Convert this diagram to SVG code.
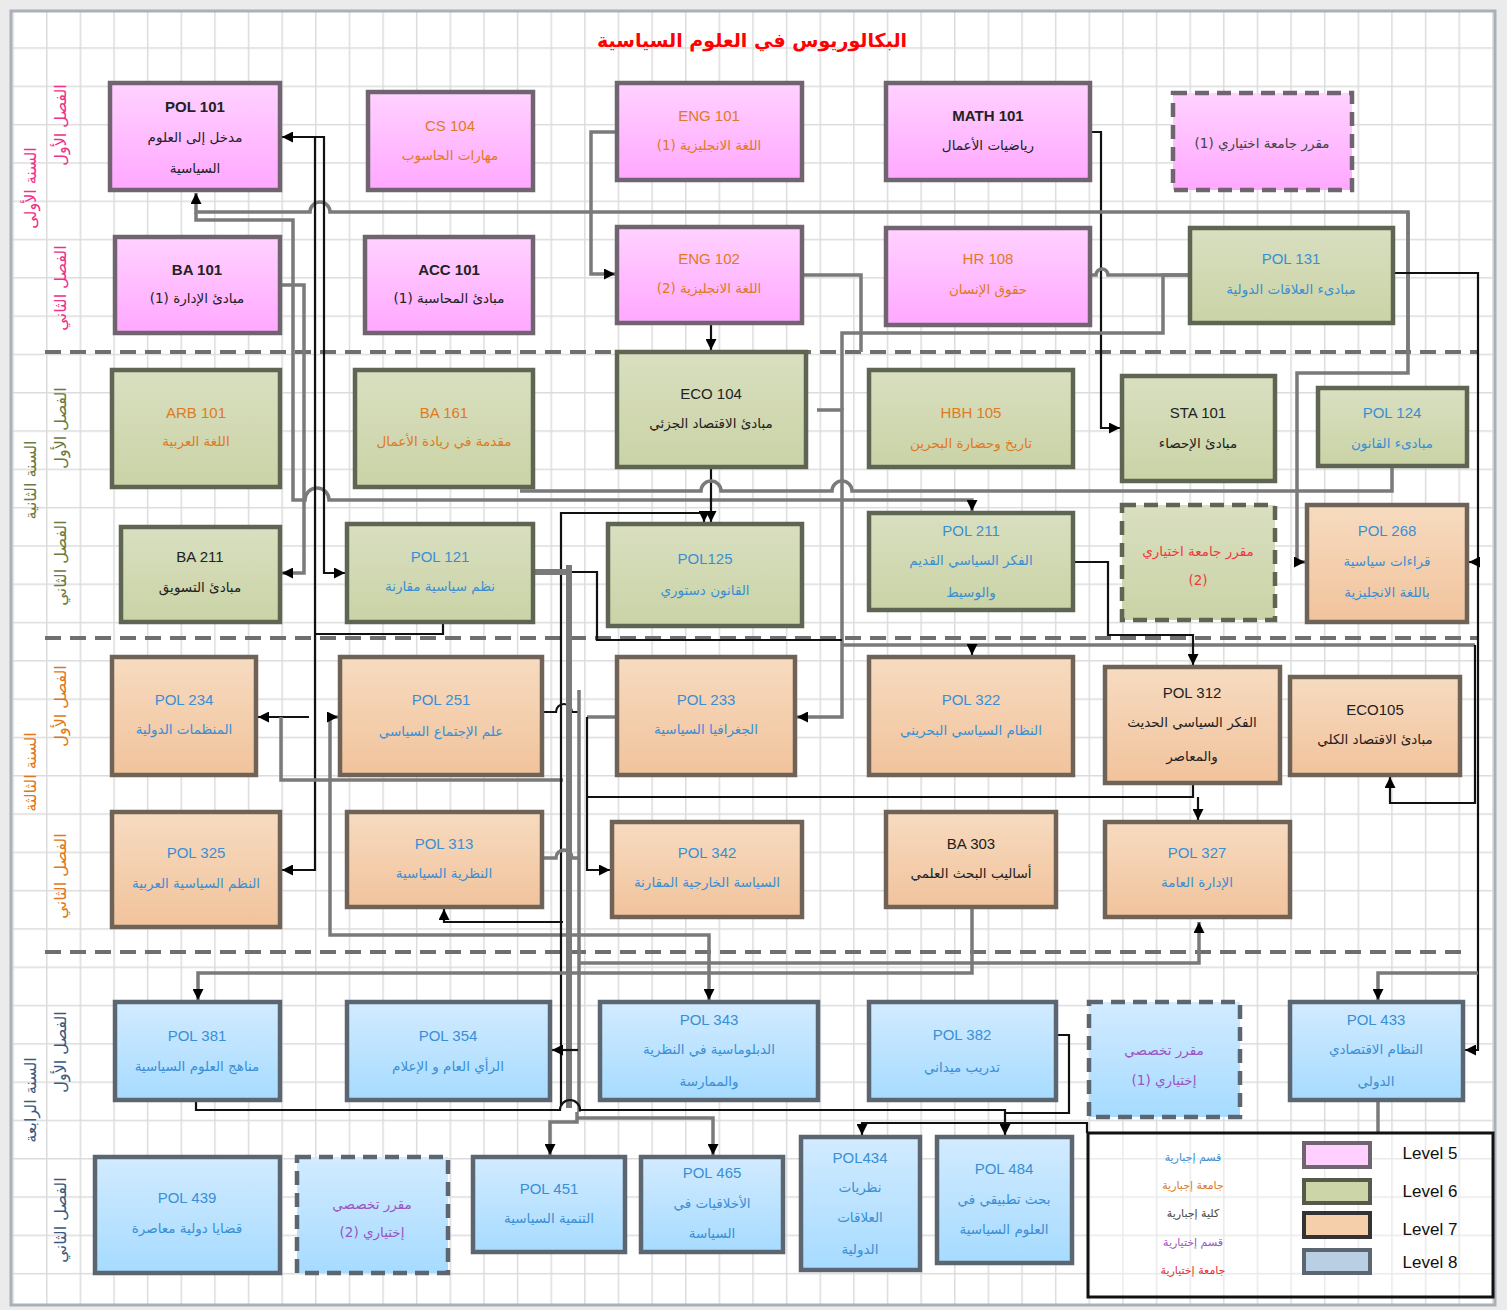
<svg xmlns="http://www.w3.org/2000/svg" width="1507" height="1310" viewBox="0 0 1507 1310">
<defs>
<pattern id="gridV" x="46" y="0" width="33.63" height="1310" patternUnits="userSpaceOnUse"><line x1="0.75" y1="0" x2="0.75" y2="1310" stroke="#dcdcdc" stroke-width="1.5"/></pattern>
<pattern id="gridH" x="0" y="47.3" width="1507" height="38.3" patternUnits="userSpaceOnUse"><line x1="0" y1="0.75" x2="1507" y2="0.75" stroke="#dcdcdc" stroke-width="1.5"/></pattern>
<linearGradient id="gP" x1="0" y1="0" x2="0" y2="1"><stop offset="0" stop-color="#ffd2ff"/><stop offset="1" stop-color="#ffa8ff"/></linearGradient>
<linearGradient id="gG" x1="0" y1="0" x2="0" y2="1"><stop offset="0" stop-color="#d9dfc0"/><stop offset="1" stop-color="#cad3a6"/></linearGradient>
<linearGradient id="gO" x1="0" y1="0" x2="0" y2="1"><stop offset="0" stop-color="#f7dbc0"/><stop offset="1" stop-color="#f1c39c"/></linearGradient>
<linearGradient id="gB" x1="0" y1="0" x2="0" y2="1"><stop offset="0" stop-color="#d2ebff"/><stop offset="1" stop-color="#a6dbff"/></linearGradient>
<marker id="ar" viewBox="0 0 10 10" refX="10" refY="5" markerWidth="11" markerHeight="11" markerUnits="userSpaceOnUse" orient="auto-start-reverse"><path d="M0,0 L10,5 L0,10 z" fill="#000"/></marker>
</defs>
<style>
.n rect{stroke:#6a6a6a;stroke-width:4.5}
.p rect{fill:url(#gP);stroke:#6f6470}
.g rect{fill:url(#gG);stroke:#5f6553}
.o rect{fill:url(#gO);stroke:#6f6358}
.b rect{fill:url(#gB);stroke:#5b6670}
.d rect{stroke-dasharray:14 8}
text{text-anchor:middle;dominant-baseline:central}
.c{font-family:"Liberation Sans",Arial,sans-serif;font-size:15px}
.a{font-family:"DejaVu Sans","Noto Sans",sans-serif;font-size:13.5px}
.bd{font-weight:bold}
.k{fill:#222}
.bl{fill:#3a8fd4}
.or{fill:#e07a22}
.rd{fill:#f03a3a}
.pu{fill:#9a55c4}
.gy{fill:#444}
.cn path{fill:none}
.cg{stroke:#7a7a7a;stroke-width:3.5}
.cb{stroke:#111;stroke-width:2.2}
.ct{stroke:#7a7a7a;stroke-width:6}
.sep{stroke:#6f6f6f;stroke-width:4;stroke-dasharray:16 9;fill:none}
.side{font-family:"DejaVu Sans","Noto Sans",sans-serif;font-size:16px}
</style>
<rect x="0" y="0" width="1507" height="1310" fill="#ebebeb"/>
<rect x="11" y="11" width="1484" height="1294" fill="#ffffff"/>
<rect x="11" y="11" width="1484" height="1294" fill="url(#gridV)"/>
<rect x="11" y="11" width="1484" height="1294" fill="url(#gridH)"/>
<rect x="11" y="11" width="1484" height="1294" fill="none" stroke="#a9b0b8" stroke-width="3"/>

<text x="752" y="40" font-family="DejaVu Sans, sans-serif" font-size="19" font-weight="bold" fill="#ff0000">البكالوريوس في العلوم السياسية</text>

<g id="side-labels">
<text class="side" fill="#f0308a" transform="translate(30,188) rotate(-90)">السنة الأولى</text>
<text class="side" fill="#f0308a" transform="translate(60,125) rotate(-90)">الفصل الأول</text>
<text class="side" fill="#f0308a" transform="translate(60,288) rotate(-90)">الفصل الثاني</text>
<text class="side" fill="#6b7a40" transform="translate(30,480) rotate(-90)">السنة الثانية</text>
<text class="side" fill="#6b7a40" transform="translate(60,428) rotate(-90)">الفصل الأول</text>
<text class="side" fill="#6b7a40" transform="translate(60,563) rotate(-90)">الفصل الثاني</text>
<text class="side" fill="#e07820" transform="translate(30,772) rotate(-90)">السنة الثالثة</text>
<text class="side" fill="#e07820" transform="translate(60,706) rotate(-90)">الفصل الأول</text>
<text class="side" fill="#e07820" transform="translate(60,876) rotate(-90)">الفصل الثاني</text>
<text class="side" fill="#3a5a80" transform="translate(30,1100) rotate(-90)">السنة الرابعة</text>
<text class="side" fill="#3a5a80" transform="translate(60,1052) rotate(-90)">الفصل الأول</text>
<text class="side" fill="#3a5a80" transform="translate(60,1220) rotate(-90)">الفصل الثاني</text>
</g>

<g id="separators">
<path class="sep" d="M45,352 H1478"/>
<path class="sep" d="M45,638 H1478"/>
<path class="sep" d="M45,952 H1462"/>
</g>

<g id="connectors" class="cn">
<path class="cg" d="M617,132 H591 V274 H615" marker-end="url(#ar)"/>
<path class="cb" d="M1090,132 H1101 V428 H1120" marker-end="url(#ar)"/>
<path class="cg" d="M1408,350 V212 H330 a10,10 0 0 0 -20,0 H196 V193" marker-end="url(#ar)"/>
<path class="cg" d="M1408,212 V373 H1297 V562 H1305" marker-end="url(#ar)"/>
<path class="cg" d="M196,212 V220 H293 V500 H305 a10,10 0 0 1 24,0 H972 V511" marker-end="url(#ar)"/>
<path class="cg" d="M280,285 H304 V573 H282" marker-end="url(#ar)"/>
<path class="cb" d="M282,137 H324 V573 H345" marker-start="url(#ar)" marker-end="url(#ar)"/>
<path class="cb" d="M315,137 V870 H282" marker-end="url(#ar)"/>
<path class="cb" d="M443,622 V634 H315"/>
<path class="cb" d="M309,717 H258" marker-end="url(#ar)"/>
<path class="cg" d="M281,717 V780 H563"/>
<path class="cg" d="M338,717 H330 V935 H709 V1000" marker-start="url(#ar)" marker-end="url(#ar)"/>
<path class="cb" d="M711,323 V350" marker-end="url(#ar)"/>
<path class="cb" d="M711,467 V522" marker-end="url(#ar)"/>
<path class="cb" d="M561,1105 V513 H704 V522" marker-end="url(#ar)"/>
<path class="cg" d="M1392,466 V491 H852 a10,10 0 0 0 -20,0 H721 a10,10 0 0 0 -20,0 H520"/>
<path class="cg" d="M817,410 H842 V717 H797" marker-end="url(#ar)"/>
<path class="cg" d="M1190,275 H1163 V333 H842 V410"/>
<path class="cg" d="M1090,275 H1096 a6,6 0 0 1 12,0 H1190"/>
<path class="cg" d="M802,275 H861 V352"/>
<path class="cb" d="M1393,273 H1478 V1050 H1465" marker-end="url(#ar)"/>
<path class="cb" d="M1478,562 H1469" marker-end="url(#ar)"/>
<path class="cg" d="M1478,973 H1378 V1000" marker-end="url(#ar)"/>
<path class="cg" d="M842,645 H1475"/>
<path class="cb" d="M1475,645 V803 H1390 V777" marker-end="url(#ar)"/>
<path class="cb" d="M972,645 V655" marker-end="url(#ar)"/>
<path class="cb" d="M1073,562 H1108 V635 H1193 V665" marker-end="url(#ar)"/>
<path class="cb" d="M533,572 H597 V640 H842"/>
<path class="ct" d="M533,572 H566"/>
<path class="cb" d="M1193,783 V797 H587"/>
<path class="cb" d="M1198,797 V820" marker-end="url(#ar)"/>
<path class="cg" d="M617,717 H587"/>
<path class="cb" d="M587,717 V870 H610" marker-end="url(#ar)"/>
<path class="cb" d="M542,712 H556 a8,8 0 0 1 16,0 H578"/>
<path class="cg" d="M542,858 H556 a8,8 0 0 1 16,0 H580"/>
<path class="cb" d="M563,922 H444 V909" marker-end="url(#ar)"/>
<path class="ct" d="M569,565 V1108"/>
<path class="cg" d="M579,690 V1112"/>
<path class="cg" d="M578,963 H1199 V922" marker-end="url(#ar)"/>
<path class="cg" d="M972,907 V973 H578"/>
<path class="cg" d="M578,973 H198 V1000" marker-end="url(#ar)"/>
<path class="cb" d="M578,1050 H552" marker-end="url(#ar)"/>
<path class="cb" d="M196,1100 V1110 H560 a10,10 0 0 1 20,0 H1005 V1135" marker-end="url(#ar)"/>
<path class="cb" d="M1056,1035 H1069 V1113 H1005"/>
<path class="cg" d="M1378,1100 V1133"/>
<path class="cb" d="M1087,1133 V1123 H862 V1135" marker-end="url(#ar)"/>
<path class="cg" d="M577,1112 V1122 H550 V1155" marker-end="url(#ar)"/>
<path class="cg" d="M577,1118 H713 V1155" marker-end="url(#ar)"/>
</g>

<g id="pol101" class="n p"><rect x="110" y="83" width="170" height="107"/><text class="c bd k" x="195" y="106">POL 101</text><text class="a k" x="195" y="137">مدخل إلى العلوم</text><text class="a k" x="195" y="168">السياسية</text></g>
<g id="cs104" class="n p"><rect x="368" y="92" width="165" height="98"/><text class="c or" x="450" y="125">CS 104</text><text class="a or" x="450" y="155">مهارات الحاسوب</text></g>
<g id="eng101" class="n p"><rect x="617" y="83" width="185" height="97"/><text class="c or" x="709" y="115">ENG 101</text><text class="a or" x="709" y="145">اللغة الانجليزية (1)</text></g>
<g id="math101" class="n p"><rect x="886" y="83" width="204" height="97"/><text class="c bd k" x="988" y="115">MATH 101</text><text class="a k" x="988" y="145">رياضيات الأعمال</text></g>
<g id="uni-elective-1" class="n p d"><rect x="1173" y="93" width="179" height="97"/><text class="a gy" x="1262" y="143">مقرر جامعة اختياري (1)</text></g>
<g id="ba101" class="n p"><rect x="115" y="237" width="165" height="96"/><text class="c bd k" x="197" y="269">BA 101</text><text class="a k" x="197" y="298">مبادئ الإدارة (1)</text></g>
<g id="acc101" class="n p"><rect x="365" y="237" width="168" height="96"/><text class="c bd k" x="449" y="269">ACC 101</text><text class="a k" x="449" y="298">مبادئ المحاسبة (1)</text></g>
<g id="eng102" class="n p"><rect x="617" y="227" width="185" height="96"/><text class="c or" x="709" y="258">ENG 102</text><text class="a or" x="709" y="288">اللغة الانجليزية (2)</text></g>
<g id="hr108" class="n p"><rect x="886" y="228" width="204" height="97"/><text class="c or" x="988" y="258">HR 108</text><text class="a or" x="988" y="289">حقوق الإنسان</text></g>
<g id="pol131" class="n g"><rect x="1190" y="228" width="203" height="95"/><text class="c bl" x="1291" y="258">POL 131</text><text class="a bl" x="1291" y="289">مبادىء العلاقات الدولية</text></g>

<g id="arb101" class="n g"><rect x="112" y="370" width="168" height="117"/><text class="c or" x="196" y="412">ARB 101</text><text class="a or" x="196" y="441">اللغة العربية</text></g>
<g id="ba161" class="n g"><rect x="355" y="370" width="178" height="117"/><text class="c or" x="444" y="412">BA 161</text><text class="a or" x="444" y="441">مقدمة في ريادة الأعمال</text></g>
<g id="eco104" class="n g"><rect x="617" y="352" width="189" height="115"/><text class="c k" x="711" y="393">ECO 104</text><text class="a k" x="711" y="423">مبادئ الاقتصاد الجزئي</text></g>
<g id="hbh105" class="n g"><rect x="869" y="370" width="204" height="97"/><text class="c or" x="971" y="412">HBH 105</text><text class="a or" x="971" y="443">تاريخ وحضارة البحرين</text></g>
<g id="sta101" class="n g"><rect x="1122" y="376" width="153" height="105"/><text class="c k" x="1198" y="412">STA 101</text><text class="a k" x="1198" y="443">مبادئ الإحصاء</text></g>
<g id="pol124" class="n g"><rect x="1318" y="388" width="149" height="78"/><text class="c bl" x="1392" y="412">POL 124</text><text class="a bl" x="1392" y="443">مبادىء القانون</text></g>
<g id="ba211" class="n g"><rect x="121" y="527" width="159" height="95"/><text class="c k" x="200" y="556">BA 211</text><text class="a k" x="200" y="587">مبادئ التسويق</text></g>
<g id="pol121" class="n g"><rect x="347" y="524" width="186" height="98"/><text class="c bl" x="440" y="556">POL 121</text><text class="a bl" x="440" y="586">نظم سياسية مقارنة</text></g>
<g id="pol125" class="n g"><rect x="608" y="524" width="194" height="102"/><text class="c bl" x="705" y="558">POL125</text><text class="a bl" x="705" y="590">القانون دستوري</text></g>
<g id="pol211" class="n g"><rect x="869" y="513" width="204" height="97"/><text class="c bl" x="971" y="530">POL 211</text><text class="a bl" x="971" y="560">الفكر السياسي القديم</text><text class="a bl" x="971" y="592">والوسيط</text></g>
<g id="uni-elective-2" class="n g d"><rect x="1122" y="505" width="153" height="115"/><text class="a rd" x="1198" y="551">مقرر جامعة اختياري</text><text class="a rd" x="1198" y="580">(2)</text></g>
<g id="pol268" class="n o"><rect x="1307" y="505" width="160" height="117"/><text class="c bl" x="1387" y="530">POL 268</text><text class="a bl" x="1387" y="561">قراءات سياسية</text><text class="a bl" x="1387" y="592">باللغة الانجليزية</text></g>

<g id="pol234" class="n o"><rect x="112" y="657" width="144" height="118"/><text class="c bl" x="184" y="699">POL 234</text><text class="a bl" x="184" y="729">المنظمات الدولية</text></g>
<g id="pol251" class="n o"><rect x="340" y="657" width="202" height="118"/><text class="c bl" x="441" y="699">POL 251</text><text class="a bl" x="441" y="731">علم الإجتماع السياسي</text></g>
<g id="pol233" class="n o"><rect x="617" y="657" width="178" height="118"/><text class="c bl" x="706" y="699">POL 233</text><text class="a bl" x="706" y="729">الجغرافيا السياسية</text></g>
<g id="pol322" class="n o"><rect x="869" y="657" width="204" height="118"/><text class="c bl" x="971" y="699">POL 322</text><text class="a bl" x="971" y="730">النظام السياسي البحريني</text></g>
<g id="pol312" class="n o"><rect x="1105" y="667" width="175" height="116"/><text class="c k" x="1192" y="692">POL 312</text><text class="a k" x="1192" y="722">الفكر السياسي الحديث</text><text class="a k" x="1192" y="756">والمعاصر</text></g>
<g id="eco105" class="n o"><rect x="1290" y="677" width="170" height="98"/><text class="c k" x="1375" y="709">ECO105</text><text class="a k" x="1375" y="739">مبادئ الاقتصاد الكلي</text></g>
<g id="pol325" class="n o"><rect x="112" y="812" width="168" height="115"/><text class="c bl" x="196" y="852">POL 325</text><text class="a bl" x="196" y="883">النظم السياسية العربية</text></g>
<g id="pol313" class="n o"><rect x="347" y="812" width="195" height="95"/><text class="c bl" x="444" y="843">POL 313</text><text class="a bl" x="444" y="873">النظرية السياسية</text></g>
<g id="pol342" class="n o"><rect x="612" y="822" width="190" height="95"/><text class="c bl" x="707" y="852">POL 342</text><text class="a bl" x="707" y="882">السياسة الخارجية المقارنة</text></g>
<g id="ba303" class="n o"><rect x="886" y="812" width="170" height="95"/><text class="c k" x="971" y="843">BA 303</text><text class="a k" x="971" y="873">أساليب البحث العلمي</text></g>
<g id="pol327" class="n o"><rect x="1105" y="822" width="185" height="95"/><text class="c bl" x="1197" y="852">POL 327</text><text class="a bl" x="1197" y="882">الإدارة العامة</text></g>

<g id="pol381" class="n b"><rect x="115" y="1002" width="165" height="98"/><text class="c bl" x="197" y="1035">POL 381</text><text class="a bl" x="197" y="1066">مناهج العلوم السياسية</text></g>
<g id="pol354" class="n b"><rect x="347" y="1002" width="203" height="98"/><text class="c bl" x="448" y="1035">POL 354</text><text class="a bl" x="448" y="1066">الرأي العام و الإعلام</text></g>
<g id="pol343" class="n b"><rect x="600" y="1002" width="218" height="98"/><text class="c bl" x="709" y="1019">POL 343</text><text class="a bl" x="709" y="1049">الدبلوماسية في النظرية</text><text class="a bl" x="709" y="1081">والممارسة</text></g>
<g id="pol382" class="n b"><rect x="869" y="1002" width="187" height="98"/><text class="c bl" x="962" y="1034">POL 382</text><text class="a bl" x="962" y="1067">تدريب ميداني</text></g>
<g id="major-elective-1" class="n b d"><rect x="1089" y="1002" width="151" height="115"/><text class="a pu" x="1164" y="1050">مقرر تخصصي</text><text class="a pu" x="1164" y="1080">إختياري (1)</text></g>
<g id="pol433" class="n b"><rect x="1290" y="1002" width="173" height="98"/><text class="c bl" x="1376" y="1019">POL 433</text><text class="a bl" x="1376" y="1049">النظام الاقتصادي</text><text class="a bl" x="1376" y="1081">الدولي</text></g>
<g id="pol439" class="n b"><rect x="95" y="1157" width="185" height="116"/><text class="c bl" x="187" y="1197">POL 439</text><text class="a bl" x="187" y="1228">قضايا دولية معاصرة</text></g>
<g id="major-elective-2" class="n b d"><rect x="297" y="1157" width="151" height="116"/><text class="a pu" x="372" y="1204">مقرر تخصصي</text><text class="a pu" x="372" y="1232">إختياري (2)</text></g>
<g id="pol451" class="n b"><rect x="473" y="1157" width="152" height="95"/><text class="c bl" x="549" y="1188">POL 451</text><text class="a bl" x="549" y="1218">التنمية السياسية</text></g>
<g id="pol465" class="n b"><rect x="641" y="1157" width="142" height="95"/><text class="c bl" x="712" y="1172">POL 465</text><text class="a bl" x="712" y="1203">الأخلاقيات في</text><text class="a bl" x="712" y="1233">السياسة</text></g>
<g id="pol434" class="n b"><rect x="801" y="1137" width="119" height="133"/><text class="c bl" x="860" y="1157">POL434</text><text class="a bl" x="860" y="1187">نظريات</text><text class="a bl" x="860" y="1217">العلاقات</text><text class="a bl" x="860" y="1249">الدولية</text></g>
<g id="pol484" class="n b"><rect x="937" y="1137" width="135" height="126"/><text class="c bl" x="1004" y="1168">POL 484</text><text class="a bl" x="1004" y="1199">بحث تطبيقي في</text><text class="a bl" x="1004" y="1229">العلوم السياسية</text></g>

<g id="legend">
<rect x="1088" y="1133" width="405" height="164" fill="#fff" fill-opacity="0.4" stroke="#111" stroke-width="3"/>
<text x="1193" y="1157" font-family="DejaVu Sans, sans-serif" font-size="11" fill="#3a8fd4">قسم إجبارية</text>
<text x="1193" y="1185" font-family="DejaVu Sans, sans-serif" font-size="11" fill="#e07a22">جامعة إجبارية</text>
<text x="1193" y="1213" font-family="DejaVu Sans, sans-serif" font-size="11" fill="#444">كلية إجبارية</text>
<text x="1193" y="1242" font-family="DejaVu Sans, sans-serif" font-size="11" fill="#9a55c4">قسم إختيارية</text>
<text x="1193" y="1270" font-family="DejaVu Sans, sans-serif" font-size="11" fill="#e03030">جامعة إختيارية</text>
<rect x="1304" y="1143" width="66" height="24" fill="#ffd0ff" stroke="#6f6470" stroke-width="4"/>
<rect x="1304" y="1180" width="66" height="23" fill="#ccd5a8" stroke="#555a4a" stroke-width="4"/>
<rect x="1304" y="1213" width="66" height="24" fill="#f4cfaa" stroke="#333" stroke-width="4"/>
<rect x="1304" y="1250" width="66" height="23" fill="#b9cfe3" stroke="#5b6670" stroke-width="4"/>
<text x="1430" y="1153" font-family="Liberation Sans, Arial, sans-serif" font-size="17" fill="#111">Level 5</text>
<text x="1430" y="1191" font-family="Liberation Sans, Arial, sans-serif" font-size="17" fill="#111">Level 6</text>
<text x="1430" y="1229" font-family="Liberation Sans, Arial, sans-serif" font-size="17" fill="#111">Level 7</text>
<text x="1430" y="1262" font-family="Liberation Sans, Arial, sans-serif" font-size="17" fill="#111">Level 8</text>
</g>
</svg>
